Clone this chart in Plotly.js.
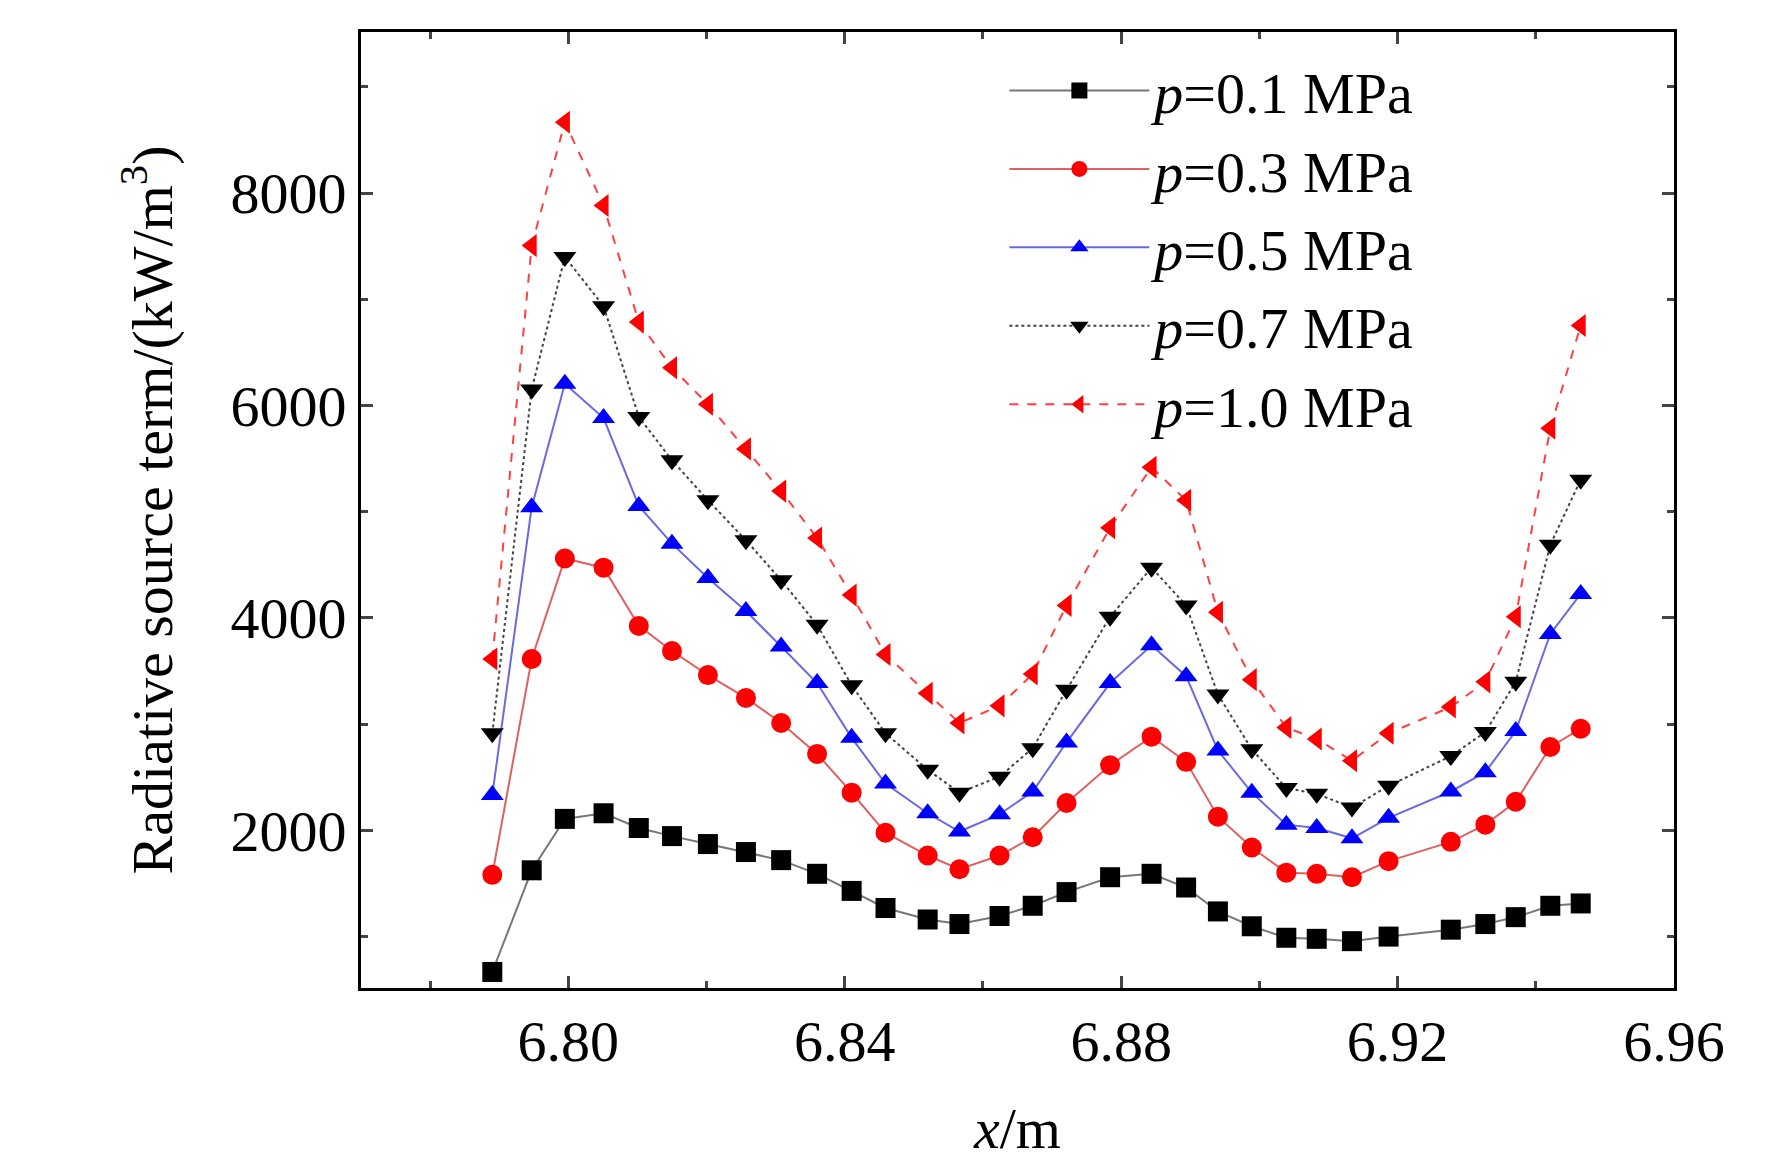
<!DOCTYPE html>
<html>
<head>
<meta charset="utf-8">
<script src="https://cdn.plot.ly/plotly-3.0.1.min.js"></script>
<style>body{margin:0;background:#fff}#chart{width:1772px;height:1168px}</style>
</head>
<body>
<div id="chart"></div>
<script>
// Data
const xPos = [6.789, 6.7947, 6.7995, 6.8051, 6.8102, 6.8150, 6.8202, 6.8257, 6.8308, 6.8360,
  6.8410, 6.8459, 6.8520, 6.8566, 6.8624, 6.8672, 6.8721, 6.8784, 6.8844, 6.8894,
  6.8940, 6.8989, 6.9039, 6.9083, 6.9134, 6.9187, 6.9277, 6.9327, 6.9371, 6.9421, 6.9465];

const p01 = [667, 1624, 2108, 2161, 2022, 1946, 1871, 1796, 1720, 1591, 1430, 1269, 1161, 1118, 1194,
  1290, 1419, 1559, 1591, 1462, 1237, 1097, 989, 979, 957, 1000, 1065, 1118, 1183, 1290, 1312];
const p03 = [1581, 3613, 4559, 4473, 3925, 3688, 3462, 3247, 3011, 2720, 2355, 1978, 1763, 1634, 1763,
  1935, 2258, 2613, 2882, 2645, 2129, 1839, 1602, 1591, 1559, 1710, 1892, 2054, 2269, 2785, 2957];
const p05 = [2333, 5043, 6204, 5882, 5054, 4699, 4376, 4065, 3731, 3387, 2871, 2441, 2161, 1989, 2151,
  2366, 2828, 3387, 3742, 3452, 2753, 2355, 2054, 2022, 1925, 2118, 2366, 2548, 2935, 3849, 4226];
const p07 = [2914, 6151, 7398, 6935, 5892, 5484, 5108, 4731, 4355, 3935, 3366, 2914, 2570, 2355, 2505,
  2774, 3323, 4011, 4473, 4118, 3280, 2763, 2398, 2344, 2215, 2419, 2699, 2925, 3398, 4688, 5301];
const p10 = [3613, 7505, 8667, 7882, 6785, 6355, 6011, 5591, 5194, 4753, 4215, 3656, 3290, 3011, 3172,
  3473, 4118, 4849, 5419, 5108, 4054, 3419, 2968, 2860, 2656, 2914, 3161, 3398, 4011, 5785, 6753];

const names = ['<i>p</i>=0.1 MPa', '<i>p</i>=0.3 MPa', '<i>p</i>=0.5 MPa', '<i>p</i>=0.7 MPa', '<i>p</i>=1.0 MPa'];
const series = [p01, p03, p05, p07, p10];

const styles = [
  { line: '#777777', dash: 'solid', marker: '#000000', symbol: 'square' },
  { line: '#e06060', dash: 'solid', marker: '#ff0000', symbol: 'circle' },
  { line: '#6a6ae0', dash: 'solid', marker: '#0000ff', symbol: 'triangle-up' },
  { line: '#444444', dash: 'dot', marker: '#000000', symbol: 'triangle-down' },
  { line: '#ff4040', dash: 'dash', marker: '#ff0000', symbol: 'triangle-left' }
];

const traces = series.map((y, i) => ({
  x: xPos,
  y: y,
  name: names[i],
  type: 'scatter',
  mode: 'lines+markers',
  line: { color: styles[i].line, width: 2, dash: styles[i].dash },
  marker: { color: styles[i].marker, symbol: styles[i].symbol, size: 20 }
}));

const axisFont = { family: 'Liberation Serif, Times New Roman, serif', size: 58, color: '#000' };

Plotly.newPlot('chart', traces, {
  width: 1772,
  height: 1168,
  margin: { l: 361, r: 98, t: 32, b: 180 },
  paper_bgcolor: '#fff',
  plot_bgcolor: '#fff',
  font: axisFont,
  showlegend: true,
  legend: {
    x: 0.49, y: 0.985, xanchor: 'left', yanchor: 'top',
    font: { family: axisFont.family, size: 58, color: '#000' },
    bgcolor: 'rgba(0,0,0,0)',
    tracegroupgap: 0,
    itemwidth: 140
  },
  xaxis: {
    range: [6.77, 6.96],
    tickvals: [6.80, 6.84, 6.88, 6.92, 6.96],
    ticktext: ['6.80', '6.84', '6.88', '6.92', '6.96'],
    ticks: 'inside', ticklen: 12, tickwidth: 3,
    minor: { tickvals: [6.78, 6.82, 6.86, 6.90, 6.94], ticks: 'inside', ticklen: 7, tickwidth: 3 },
    showline: true, linewidth: 3, linecolor: '#000', mirror: 'ticks',
    showgrid: false, zeroline: false,
    tickfont: axisFont,
    title: { text: '<i>x</i>/m', font: axisFont, standoff: 35 }
  },
  yaxis: {
    range: [516, 9516],
    tickvals: [2000, 4000, 6000, 8000],
    ticks: 'inside', ticklen: 12, tickwidth: 3,
    minor: { tickvals: [1000, 3000, 5000, 7000, 9000], ticks: 'inside', ticklen: 7, tickwidth: 3 },
    showline: true, linewidth: 3, linecolor: '#000', mirror: 'ticks',
    showgrid: false, zeroline: false,
    tickfont: axisFont,
    title: { text: 'Radiative source term/(kW/m<sup>3</sup>)', font: axisFont, standoff: 40 }
  }
}, { displayModeBar: false });
</script>
</body>
</html>
